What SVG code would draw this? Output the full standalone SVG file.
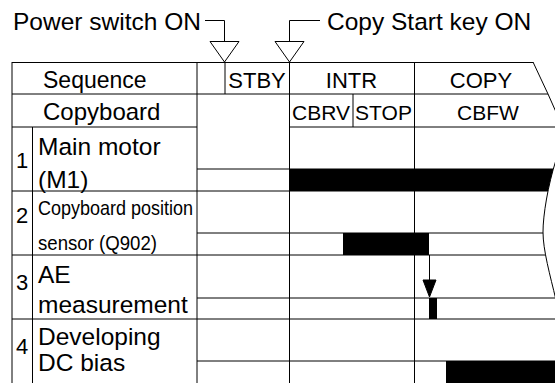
<svg xmlns="http://www.w3.org/2000/svg" width="555" height="383" viewBox="0 0 555 383">
<style>
text{font-family:"Liberation Sans",Arial,sans-serif;fill:#000}
.t{font-size:24.5px}
.h{font-size:22px;text-anchor:middle}
.s{font-size:21px;text-anchor:middle}
.r{font-size:24.5px}
.n{font-size:22px;text-anchor:middle}
.c{font-size:21px}
.g{stroke:#000;stroke-width:1;fill:none}
.bar{fill:#000}
</style>
<defs>
<clipPath id="brk">
<path d="M0,0 L533,0 L533,62 L548,94 L556,112 L600,112 L600,160 L556,160 C548,185 543,215 543,232 C543,250 550,275 556,300 L600,300 L600,383 L0,383 Z"/>
</clipPath>
</defs>

<g id="labels-top">
<text class="t" x="13" y="30">Power switch ON</text>
<text class="t" x="327" y="30">Copy Start key ON</text>
</g>

<g id="connectors" class="g">
<polyline points="205,20.5 224.5,20.5 224.5,41.5"/>
<polygon points="210,41.5 239,41.5 224.5,62"/>
<polyline points="320,20.5 289.5,20.5 289.5,41.5"/>
<polygon points="275,41.5 304,41.5 289.5,62"/>
<polyline points="429.5,255 429.5,281"/>
<polygon points="423,280 436,280 429.5,297" fill="#000"/>
</g>

<g id="grid" clip-path="url(#brk)">
<g class="g">
<line x1="12" y1="62.5" x2="560" y2="62.5"/>
<line x1="12" y1="94" x2="560" y2="94"/>
<line x1="12" y1="127" x2="197" y2="127"/>
<line x1="289" y1="127" x2="560" y2="127"/>
<line x1="197" y1="169" x2="560" y2="169"/>
<line x1="12" y1="191" x2="560" y2="191"/>
<line x1="197" y1="233" x2="560" y2="233"/>
<line x1="12" y1="255" x2="560" y2="255"/>
<line x1="197" y1="298" x2="560" y2="298"/>
<line x1="12" y1="319" x2="560" y2="319"/>
<line x1="197" y1="361" x2="560" y2="361"/>
<line x1="12" y1="62" x2="12" y2="383"/>
<line x1="32.5" y1="127" x2="32.5" y2="383"/>
<line x1="197" y1="62" x2="197" y2="383"/>
<line x1="225" y1="62" x2="225" y2="94"/>
<line x1="289.5" y1="62" x2="289.5" y2="383"/>
<line x1="353" y1="94" x2="353" y2="127"/>
<line x1="414.5" y1="62" x2="414.5" y2="383"/>
</g>
<rect class="bar" x="289" y="169" width="280" height="22"/>
<rect class="bar" x="343" y="233" width="86" height="22"/>
<rect class="bar" x="429" y="298" width="8" height="21"/>
<rect class="bar" x="446" y="361" width="120" height="22"/>
</g>
<path class="g" d="M533,62 L548,94 L556,112 M556,160 C548,185 543,215 543,232 C543,250 550,275 556,300"/>

<g id="header">
<text x="43" y="88" style="font-size:23px">Sequence</text>
<text x="43" y="120" style="font-size:24px">Copyboard</text>
<text class="h" x="257" y="88">STBY</text>
<text class="h" x="351.5" y="88">INTR</text>
<text class="h" x="481" y="88">COPY</text>
<text class="s" x="321" y="120">CBRV</text>
<text class="s" x="383.5" y="120">STOP</text>
<text class="s" x="488" y="120">CBFW</text>
</g>

<g id="row1">
<text class="n" x="22" y="168">1</text>
<text class="r" x="38" y="155">Main motor</text>
<text class="r" x="38" y="188">(M1)</text>
</g>
<g id="row2">
<text class="n" x="22" y="223">2</text>
<text class="c" x="38" y="215" textLength="155" lengthAdjust="spacingAndGlyphs">Copyboard position</text>
<text class="c" x="38" y="250" textLength="119" lengthAdjust="spacingAndGlyphs">sensor (Q902)</text>
</g>
<g id="row3">
<text class="n" x="22" y="290">3</text>
<text class="r" x="38" y="283">AE</text>
<text class="r" x="38" y="313">measurement</text>
</g>
<g id="row4">
<text class="n" x="22" y="354">4</text>
<text class="r" x="38" y="345">Developing</text>
<text class="r" x="38" y="371">DC bias</text>
</g>
</svg>
